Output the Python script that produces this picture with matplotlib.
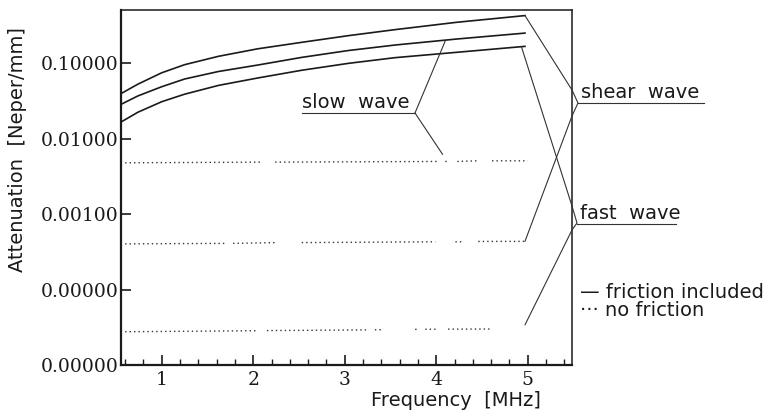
import numpy as np
import matplotlib
matplotlib.use('Agg')
import matplotlib.pyplot as plt

# solid curves (friction included)
freq_solid = [0.56, 0.74, 1.0, 1.25, 1.62, 2.05, 2.53, 3.04, 3.55, 4.22, 4.97]
shear_solid = [0.040, 0.053, 0.075, 0.096, 0.124, 0.156, 0.19, 0.233, 0.28, 0.35, 0.43]
slow_solid = [0.0288, 0.037, 0.049, 0.062, 0.078, 0.095, 0.12, 0.148, 0.175, 0.21, 0.252]
fast_solid = [0.0168, 0.0225, 0.031, 0.039, 0.051, 0.064, 0.081, 0.10, 0.119, 0.14, 0.168]

# dotted curves (no friction), nan = gap in the dotted line
slow_dot_x = [0.60, 2.10, np.nan, 2.24, 4.01, np.nan, 4.10, 4.12, np.nan, 4.23, 4.45, np.nan, 4.61, 5.0]
slow_dot_y = [0.0048, 0.0049, np.nan, 0.0049, 0.0050, np.nan, 0.0050, 0.0050, np.nan, 0.0050, 0.0051, np.nan, 0.0051, 0.0051]
shear_dot_x = [0.60, 1.69, np.nan, 1.78, 2.26, np.nan, 2.53, 3.99, np.nan, 4.21, 4.30, np.nan, 4.46, 4.97]
shear_dot_y = [0.000404, 0.00041, np.nan, 0.00041, 0.00042, np.nan, 0.00042, 0.00043, np.nan, 0.00043, 0.00043, np.nan, 0.000435, 0.000436]
fast_dot_x = [0.60, 2.05, np.nan, 2.15, 3.24, np.nan, 3.33, 3.42, np.nan, 3.77, 3.79, np.nan, 3.88, 4.02, np.nan, 4.13, 4.59]
fast_dot_y = [2.76e-5, 2.85e-5, np.nan, 2.86e-5, 2.92e-5, np.nan, 2.93e-5, 2.94e-5, np.nan, 2.97e-5, 2.97e-5, np.nan, 2.98e-5, 2.98e-5, np.nan, 2.99e-5, 3.0e-5]

yticks = [1e-5, 1e-4, 1e-3, 1e-2, 1e-1]
ytick_labels = ['0.00000', '0.00000', '0.00100', '0.01000', '0.10000']
xticks = [1, 2, 3, 4, 5]

W, H = 782, 413
fig = plt.figure(figsize=(W / 100, H / 100), dpi=100)
ax = fig.add_axes([121 / W, 1 - 365 / H, 451 / W, 355 / H])

ink = '#1a1a1a'
for y in (shear_solid, slow_solid, fast_solid):
    ax.plot(freq_solid, y, color=ink, lw=1.2)
for xx, yy in ((slow_dot_x, slow_dot_y), (shear_dot_x, shear_dot_y), (fast_dot_x, fast_dot_y)):
    ax.plot(xx, yy, color='#333333', lw=1.0, ls=(0, (1, 2.2)))

ax.set_yscale('log')
ax.set_ylim(1e-5, 0.51)
ax.set_xlim(0.555, 5.484)
ax.set_yticks(yticks)
ax.set_yticklabels(ytick_labels)
ax.minorticks_off()
ax.set_xticks(xticks)
ax.set_xticks(np.arange(0.6, 5.5, 0.2), minor=True)
ax.tick_params(axis='both', which='major', direction='in', length=7, width=1.2,
               labelsize=13.5, colors=ink)
ax.tick_params(axis='y', pad=2)
ax.tick_params(axis='x', pad=4)
ax.tick_params(axis='x', which='minor', direction='in', length=4, width=1.0, colors=ink)
for lab in ax.get_xticklabels() + ax.get_yticklabels():
    lab.set_family('DejaVu Serif')
ax.spines['left'].set_linewidth(1.6)
ax.spines['bottom'].set_linewidth(1.6)
ax.spines['top'].set_linewidth(1.1)
ax.spines['right'].set_linewidth(1.1)
for s in ax.spines.values():
    s.set_color(ink)

fig.text(456 / W, 1 - 400 / H, 'Frequency  [MHz]', ha='center', va='center',
         fontsize=14, color=ink)
fig.text(18 / W, 1 - 150 / H, 'Attenuation  [Neper/mm]', ha='center', va='center',
         rotation=90, fontsize=14, color=ink)

# annotation helpers (figure pixels measured from the top)
def fp(x, y):
    return (x, H - y)

lkw = dict(color='#333333', lw=0.8)

def link(p, xy):
    ax.annotate('', xy=xy, xycoords='data', xytext=fp(*p), textcoords='figure pixels',
                arrowprops=dict(arrowstyle='-', shrinkA=0, shrinkB=0, **lkw),
                annotation_clip=False)

def seg(pts):
    xs = [p[0] / W for p in pts]
    ys = [1 - p[1] / H for p in pts]
    fig.add_artist(plt.Line2D(xs, ys, transform=fig.transFigure, **lkw))

# slow wave
fig.text(356 / W, 1 - 103 / H, 'slow  wave', ha='center', va='center', fontsize=14, color=ink)
seg([(302, 113), (415, 113)])
link((415, 113), (4.1, 0.2))
link((415, 113), (4.07, 0.0062))

# shear wave
fig.text(581 / W, 1 - 93 / H, 'shear  wave', ha='left', va='center', fontsize=14, color=ink)
seg([(572, 90), (578, 103), (572, 116)])
seg([(578, 103), (704, 103)])
link((572, 90), (freq_solid[-1], shear_solid[-1]))
link((572, 116), (shear_dot_x[-1], shear_dot_y[-1]))

# fast wave
fig.text(580 / W, 1 - 213 / H, 'fast  wave', ha='left', va='center', fontsize=14, color=ink)
seg([(572, 206), (577, 223), (572, 230)])
seg([(577, 224), (676, 224)])
link((572, 206), (freq_solid[-1] - 0.04, fast_solid[-1]))
link((572, 230), (4.97, 3.4e-5))

# legend written as text
fig.text(580 / W, 1 - 292 / H, '— friction included', ha='left', va='center',
         fontsize=14, color=ink)
fig.text(580 / W, 1 - 310 / H, '··· no friction', ha='left', va='center',
         fontsize=14, color=ink)

fig.savefig('out.png', dpi=100)
